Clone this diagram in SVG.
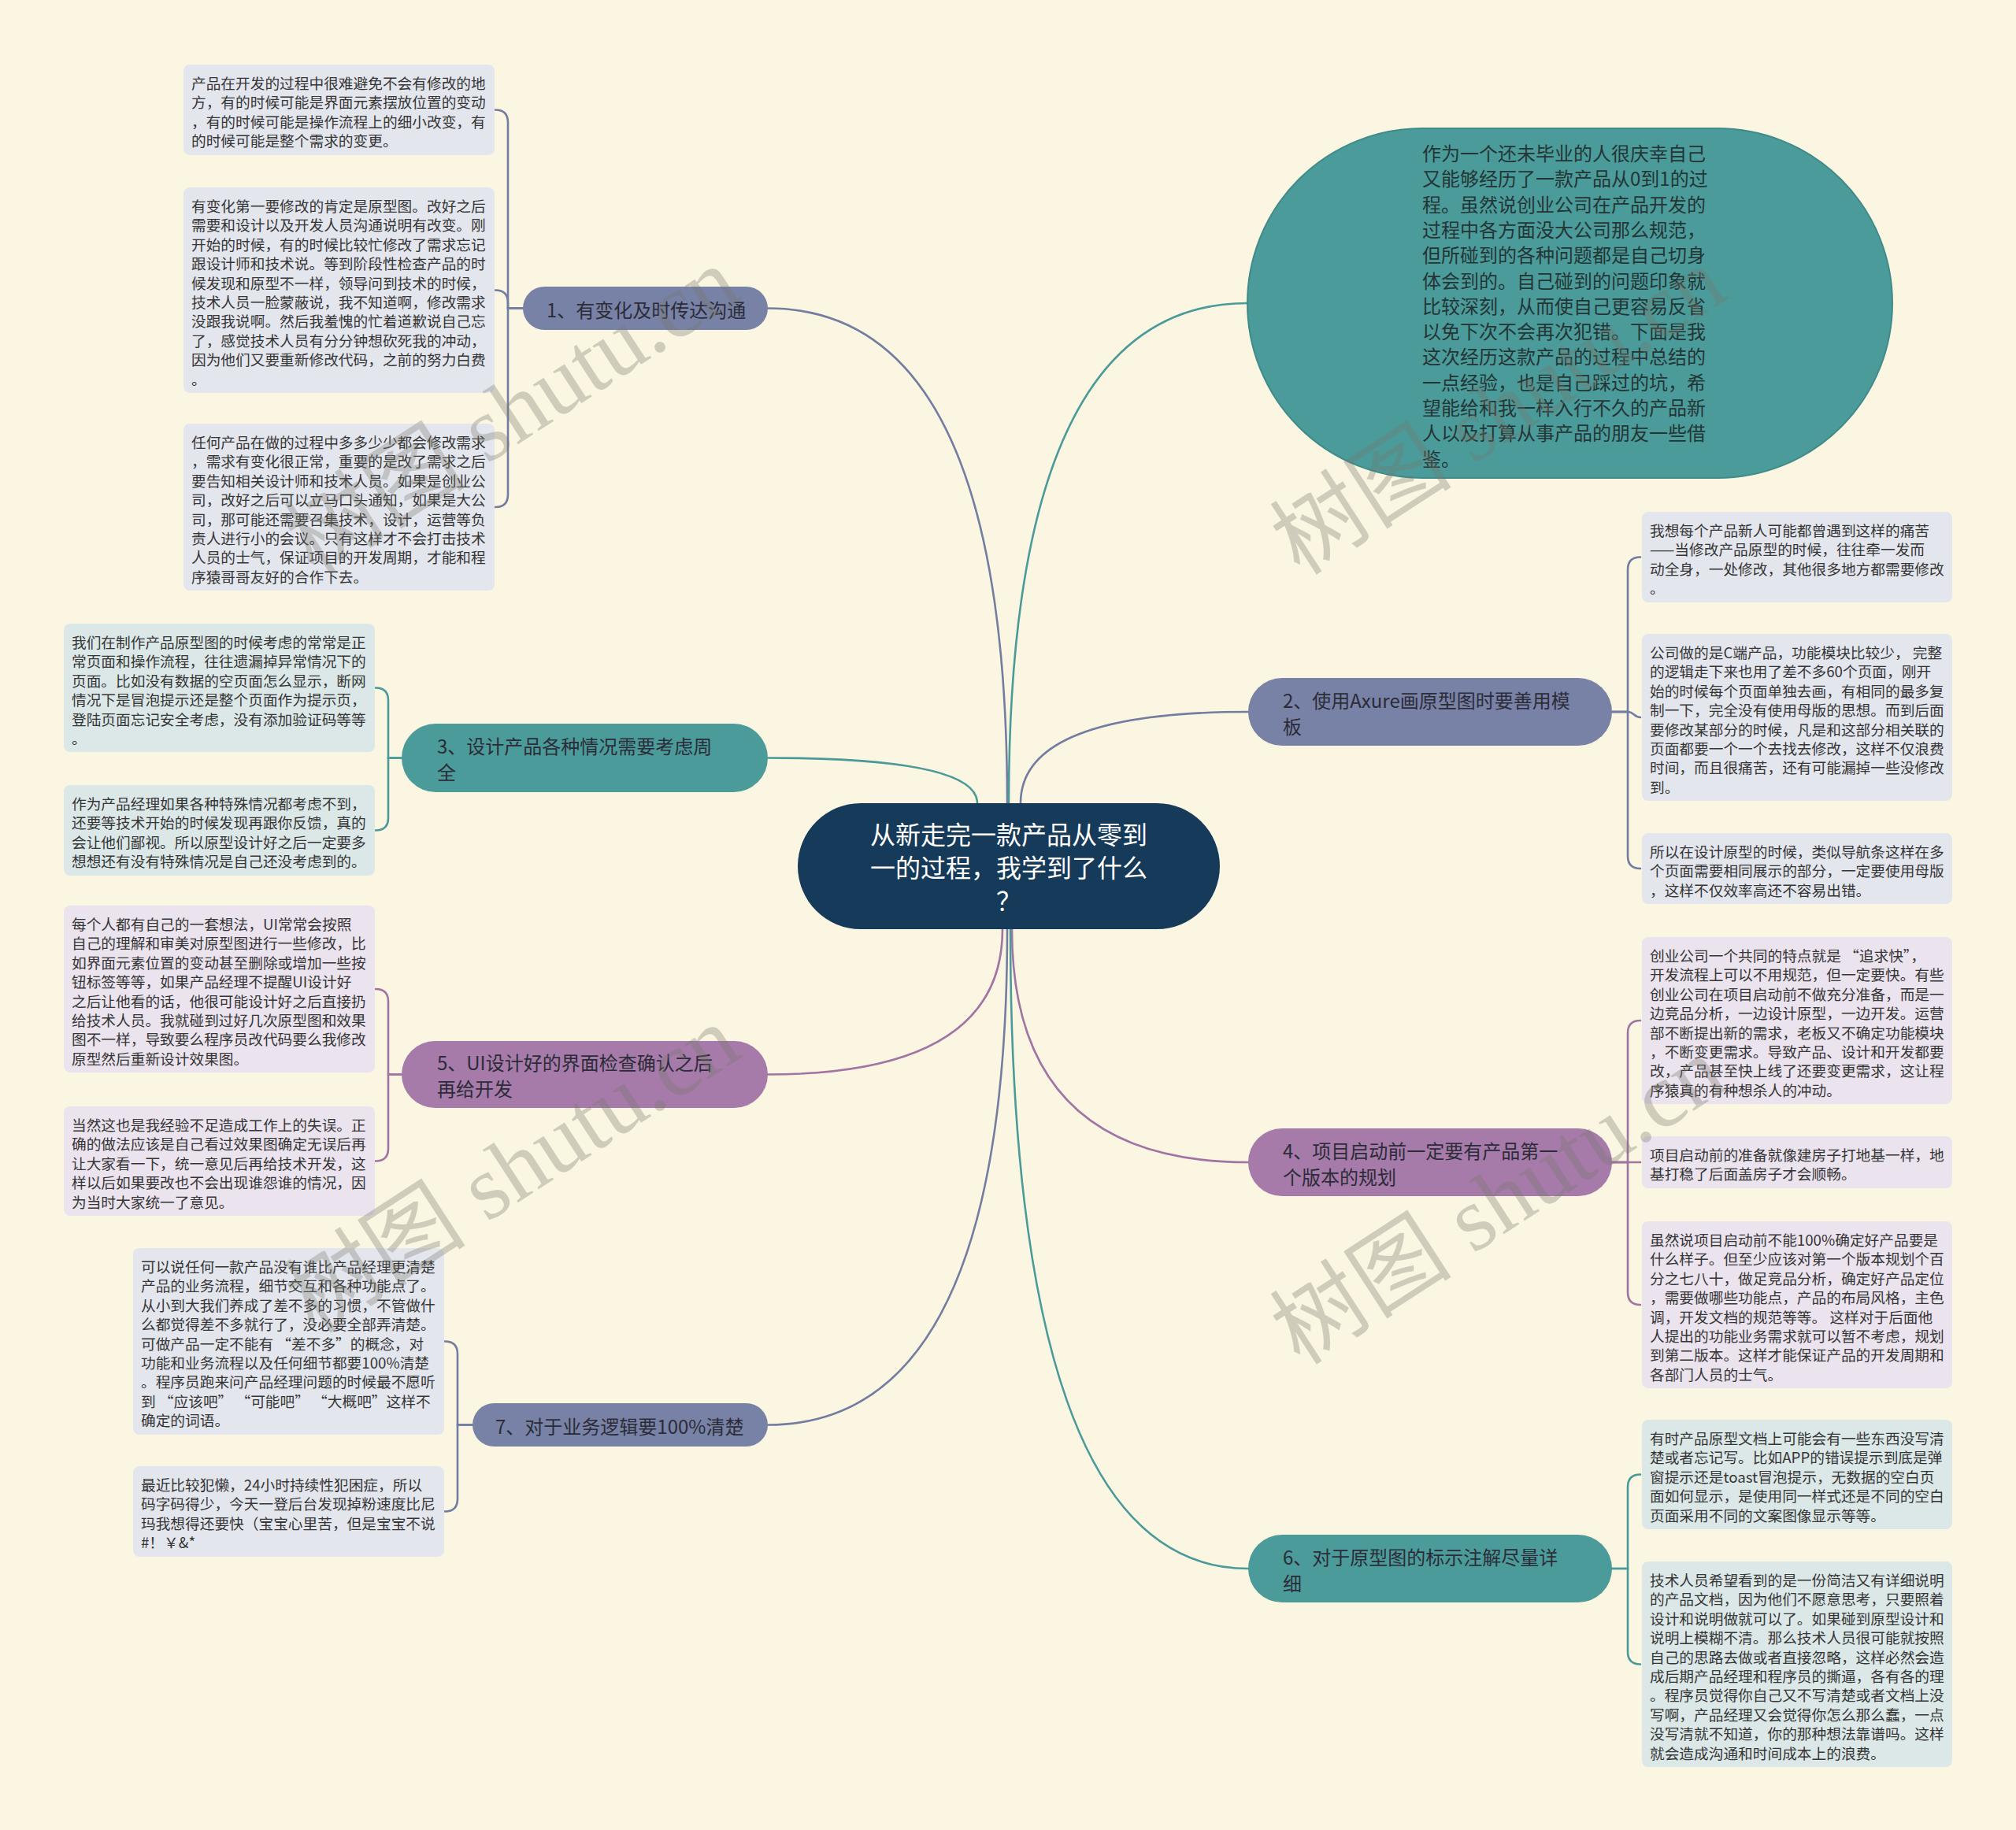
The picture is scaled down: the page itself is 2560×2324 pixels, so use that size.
<svg xmlns="http://www.w3.org/2000/svg" width="2560" height="2324" viewBox="0 0 2560 2324">
<style>
text{font-family:"Noto Sans CJK SC","Noto Sans",sans-serif;dominant-baseline:central}
.leaf{font-size:18.7px;fill:#353535}
.br{font-size:24px;fill:#2b2c38}
.ctr{font-size:32px;fill:#ffffff;text-anchor:middle}
.ell{font-size:24px;fill:#243535}
.lf-s{fill:#e4e6ee}
.lf-t{fill:#dce8e8}
.lf-p{fill:#ebe3ee}
.n-s{fill:#7882a6}
.n-t{fill:#4b9b9a}
.n-p{fill:#a67aa9}
.c{fill:none;stroke-width:2.6;stroke-linecap:round}
.cs{stroke:#737da0}
.ct{stroke:#4b9a99}
.cp{stroke:#a174a4}
.wm{font-family:"Liberation Serif","Noto Sans CJK SC",serif;font-size:116px;fill:#77776c;opacity:0.32;text-anchor:middle;dominant-baseline:auto}
</style>
<rect x="0" y="0" width="2560" height="2324" fill="#faf6e1"/>

<g id="connectors">
  <path class="c cs" d="M1279,1020 Q1279,391.5 975,391.5"/>
  <path class="c ct" d="M1281,1020 Q1281,385 1584,385"/>
  <path class="c ct" d="M1241,1020 Q1241,962.5 975,962.5"/>
  <path class="c cs" d="M1296,1020 Q1296,904 1585,904"/>
  <path class="c cp" d="M1273,1180 Q1273,1364.5 975,1364.5"/>
  <path class="c cs" d="M1279,1180 Q1279,1809.5 975,1809.5"/>
  <path class="c cp" d="M1285,1180 Q1285,1476 1585,1476"/>
  <path class="c ct" d="M1283,1180 Q1283,1992 1585,1992"/>

  <path class="c cs" d="M664,391.5 H645 V155.5 Q645,139.5 629,139.5"/>
  <path class="c cs" d="M664,391.5 H645 V384.5 Q645,368.5 629,368.5"/>
  <path class="c cs" d="M664,391.5 H645 V628 Q645,644 629,644"/>

  <path class="c ct" d="M510,962.5 H493 V889.5 Q493,873.5 477,873.5"/>
  <path class="c ct" d="M510,962.5 H493 V1038.5 Q493,1054.5 477,1054.5"/>

  <path class="c cp" d="M510,1364.5 H493 V1272 Q493,1256 477,1256"/>
  <path class="c cp" d="M510,1364.5 H493 V1458.5 Q493,1474.5 477,1474.5"/>

  <path class="c cs" d="M600,1809.5 H581 V1719.5 Q581,1703.5 565,1703.5"/>
  <path class="c cs" d="M600,1809.5 H581 V1903.5 Q581,1919.5 565,1919.5"/>

  <path class="c cs" d="M2047,904 H2067 V723.5 Q2067,707.5 2083,707.5"/>
  <path class="c cs" d="M2047,904 H2067 C2075,904 2075,911 2083,911"/>
  <path class="c cs" d="M2047,904 H2067 V1087 Q2067,1103 2083,1103"/>

  <path class="c cp" d="M2047,1476 H2067 V1312 Q2067,1296 2083,1296"/>
  <path class="c cp" d="M2047,1476 H2083"/>
  <path class="c cp" d="M2047,1476 H2067 V1641 Q2067,1657 2083,1657"/>

  <path class="c ct" d="M2047,1992 H2067 V1888.5 Q2067,1872.5 2083,1872.5"/>
  <path class="c ct" d="M2047,1992 H2067 V2097.5 Q2067,2113.5 2083,2113.5"/>
</g>

<g id="center">
  <rect x="1013" y="1020" width="536" height="160" rx="80" fill="#163a59"/>
  <text class="ctr"><tspan x="1281" y="1058">从新走完一款产品从零到</tspan><tspan x="1281" y="1100">一的过程，我学到了什么</tspan><tspan x="1281" y="1142">？</tspan></text>
</g>

<g id="intro">
  <rect x="1584" y="163" width="819" height="444" rx="222" fill="#4b9b9a" stroke="#3f8b8a" stroke-width="2"/>
  <text class="ell">
    <tspan x="1806" y="193">作为一个还未毕业的人很庆幸自己</tspan>
    <tspan x="1806" y="225.3">又能够经历了一款产品从0到1的过</tspan>
    <tspan x="1806" y="257.6">程。虽然说创业公司在产品开发的</tspan>
    <tspan x="1806" y="289.9">过程中各方面没大公司那么规范，</tspan>
    <tspan x="1806" y="322.2">但所碰到的各种问题都是自己切身</tspan>
    <tspan x="1806" y="354.5">体会到的。自己碰到的问题印象就</tspan>
    <tspan x="1806" y="386.8">比较深刻，从而使自己更容易反省</tspan>
    <tspan x="1806" y="419.1">以免下次不会再次犯错。下面是我</tspan>
    <tspan x="1806" y="451.4">这次经历这款产品的过程中总结的</tspan>
    <tspan x="1806" y="483.7">一点经验，也是自己踩过的坑，希</tspan>
    <tspan x="1806" y="516">望能给和我一样入行不久的产品新</tspan>
    <tspan x="1806" y="548.3">人以及打算从事产品的朋友一些借</tspan>
    <tspan x="1806" y="580.6">鉴。</tspan>
  </text>
</g>

<g id="branch1">
  <rect class="n-s" x="664" y="364" width="311" height="55" rx="27.5"/>
  <text class="br"><tspan x="694" y="391.5">1、有变化及时传达沟通</tspan></text>
</g>
<g id="branch3">
  <rect class="n-t" x="510" y="919" width="465" height="87" rx="43.5"/>
  <text class="br"><tspan x="555" y="946">3、设计产品各种情况需要考虑周</tspan><tspan x="555" y="979">全</tspan></text>
</g>
<g id="branch5">
  <rect class="n-p" x="510" y="1322" width="465" height="85" rx="42.5"/>
  <text class="br"><tspan x="555" y="1348">5、UI设计好的界面检查确认之后</tspan><tspan x="555" y="1381">再给开发</tspan></text>
</g>
<g id="branch7">
  <rect class="n-s" x="600" y="1782" width="375" height="55" rx="27.5"/>
  <text class="br"><tspan x="629" y="1809.5">7、对于业务逻辑要100%清楚</tspan></text>
</g>
<g id="branch2">
  <rect class="n-s" x="1585" y="861" width="462" height="86" rx="43"/>
  <text class="br"><tspan x="1629" y="888">2、使用Axure画原型图时要善用模</tspan><tspan x="1629" y="921">板</tspan></text>
</g>
<g id="branch4">
  <rect class="n-p" x="1585" y="1433" width="462" height="86" rx="43"/>
  <text class="br"><tspan x="1629" y="1460">4、项目启动前一定要有产品第一</tspan><tspan x="1629" y="1493">个版本的规划</tspan></text>
</g>
<g id="branch6">
  <rect class="n-t" x="1585" y="1949" width="462" height="86" rx="43"/>
  <text class="br"><tspan x="1629" y="1976">6、对于原型图的标示注解尽量详</tspan><tspan x="1629" y="2009">细</tspan></text>
</g>

<g id="leaf1a">
  <rect class="lf-s" x="233" y="82" width="395" height="115" rx="8"/>
  <text class="leaf"><tspan x="243" y="104">产品在开发的过程中很难避免不会有修改的地</tspan><tspan x="243" y="128.4">方，有的时候可能是界面元素摆放位置的变动</tspan><tspan x="243" y="152.8">，有的时候可能是操作流程上的细小改变，有</tspan><tspan x="243" y="177.2">的时候可能是整个需求的变更。</tspan></text>
</g>
<g id="leaf1b">
  <rect class="lf-s" x="233" y="238" width="395" height="261" rx="8"/>
  <text class="leaf"><tspan x="243" y="260">有变化第一要修改的肯定是原型图。改好之后</tspan><tspan x="243" y="284.4">需要和设计以及开发人员沟通说明有改变。刚</tspan><tspan x="243" y="308.8">开始的时候，有的时候比较忙修改了需求忘记</tspan><tspan x="243" y="333.2">跟设计师和技术说。等到阶段性检查产品的时</tspan><tspan x="243" y="357.6">候发现和原型不一样，领导问到技术的时候，</tspan><tspan x="243" y="382">技术人员一脸蒙蔽说，我不知道啊，修改需求</tspan><tspan x="243" y="406.4">没跟我说啊。然后我羞愧的忙着道歉说自己忘</tspan><tspan x="243" y="430.8">了，感觉技术人员有分分钟想砍死我的冲动，</tspan><tspan x="243" y="455.2">因为他们又要重新修改代码，之前的努力白费</tspan><tspan x="243" y="479.6">。</tspan></text>
</g>
<g id="leaf1c">
  <rect class="lf-s" x="233" y="538" width="395" height="212" rx="8"/>
  <text class="leaf"><tspan x="243" y="560">任何产品在做的过程中多多少少都会修改需求</tspan><tspan x="243" y="584.4">，需求有变化很正常，重要的是改了需求之后</tspan><tspan x="243" y="608.8">要告知相关设计师和技术人员。如果是创业公</tspan><tspan x="243" y="633.2">司，改好之后可以立马口头通知，如果是大公</tspan><tspan x="243" y="657.6">司，那可能还需要召集技术，设计，运营等负</tspan><tspan x="243" y="682">责人进行小的会议。只有这样才不会打击技术</tspan><tspan x="243" y="706.4">人员的士气，保证项目的开发周期，才能和程</tspan><tspan x="243" y="730.8">序猿哥哥友好的合作下去。</tspan></text>
</g>

<g id="leaf3a">
  <rect class="lf-t" x="81" y="792" width="395" height="163" rx="8"/>
  <text class="leaf"><tspan x="91" y="814">我们在制作产品原型图的时候考虑的常常是正</tspan><tspan x="91" y="838.4">常页面和操作流程，往往遗漏掉异常情况下的</tspan><tspan x="91" y="862.8">页面。比如没有数据的空页面怎么显示，断网</tspan><tspan x="91" y="887.2">情况下是冒泡提示还是整个页面作为提示页，</tspan><tspan x="91" y="911.6">登陆页面忘记安全考虑，没有添加验证码等等</tspan><tspan x="91" y="936">。</tspan></text>
</g>
<g id="leaf3b">
  <rect class="lf-t" x="81" y="997" width="395" height="115" rx="8"/>
  <text class="leaf"><tspan x="91" y="1019">作为产品经理如果各种特殊情况都考虑不到，</tspan><tspan x="91" y="1043.4">还要等技术开始的时候发现再跟你反馈，真的</tspan><tspan x="91" y="1067.8">会让他们鄙视。所以原型设计好之后一定要多</tspan><tspan x="91" y="1092.2">想想还有没有特殊情况是自己还没考虑到的。</tspan></text>
</g>

<g id="leaf5a">
  <rect class="lf-p" x="81" y="1150" width="395" height="212" rx="8"/>
  <text class="leaf"><tspan x="91" y="1172">每个人都有自己的一套想法，UI常常会按照</tspan><tspan x="91" y="1196.4">自己的理解和审美对原型图进行一些修改，比</tspan><tspan x="91" y="1220.8">如界面元素位置的变动甚至删除或增加一些按</tspan><tspan x="91" y="1245.2">钮标签等等，如果产品经理不提醒UI设计好</tspan><tspan x="91" y="1269.6">之后让他看的话，他很可能设计好之后直接扔</tspan><tspan x="91" y="1294">给技术人员。我就碰到过好几次原型图和效果</tspan><tspan x="91" y="1318.4">图不一样，导致要么程序员改代码要么我修改</tspan><tspan x="91" y="1342.8">原型然后重新设计效果图。</tspan></text>
</g>
<g id="leaf5b">
  <rect class="lf-p" x="81" y="1405" width="395" height="139" rx="8"/>
  <text class="leaf"><tspan x="91" y="1427">当然这也是我经验不足造成工作上的失误。正</tspan><tspan x="91" y="1451.4">确的做法应该是自己看过效果图确定无误后再</tspan><tspan x="91" y="1475.8">让大家看一下，统一意见后再给技术开发，这</tspan><tspan x="91" y="1500.2">样以后如果要改也不会出现谁怨谁的情况，因</tspan><tspan x="91" y="1524.6">为当时大家统一了意见。</tspan></text>
</g>

<g id="leaf7a">
  <rect class="lf-s" x="169" y="1585" width="395" height="237" rx="8"/>
  <text class="leaf"><tspan x="179" y="1607">可以说任何一款产品没有谁比产品经理更清楚</tspan><tspan x="179" y="1631.4">产品的业务流程，细节交互和各种功能点了。</tspan><tspan x="179" y="1655.8">从小到大我们养成了差不多的习惯，不管做什</tspan><tspan x="179" y="1680.2">么都觉得差不多就行了，没必要全部弄清楚。</tspan><tspan x="179" y="1704.6">可做产品一定不能有 “差不多”的概念，对</tspan><tspan x="179" y="1729">功能和业务流程以及任何细节都要100%清楚</tspan><tspan x="179" y="1753.4">。程序员跑来问产品经理问题的时候最不愿听</tspan><tspan x="179" y="1777.8">到 “应该吧” “可能吧” “大概吧”这样不</tspan><tspan x="179" y="1802.2">确定的词语。</tspan></text>
</g>
<g id="leaf7b">
  <rect class="lf-s" x="169" y="1862" width="395" height="115" rx="8"/>
  <text class="leaf"><tspan x="179" y="1884">最近比较犯懒，24小时持续性犯困症，所以</tspan><tspan x="179" y="1908.4">码字码得少，今天一登后台发现掉粉速度比尼</tspan><tspan x="179" y="1932.8">玛我想得还要快（宝宝心里苦，但是宝宝不说</tspan><tspan x="179" y="1957.2">#！￥&amp;*</tspan></text>
</g>

<g id="leaf2a">
  <rect class="lf-s" x="2085" y="650" width="394" height="115" rx="8"/>
  <text class="leaf"><tspan x="2095" y="672">我想每个产品新人可能都曾遇到这样的痛苦</tspan><tspan x="2095" y="696.4">——当修改产品原型的时候，往往牵一发而</tspan><tspan x="2095" y="720.8">动全身，一处修改，其他很多地方都需要修改</tspan><tspan x="2095" y="745.2">。</tspan></text>
</g>
<g id="leaf2b">
  <rect class="lf-s" x="2085" y="805" width="394" height="212" rx="8"/>
  <text class="leaf"><tspan x="2095" y="827">公司做的是C端产品，功能模块比较少， 完整</tspan><tspan x="2095" y="851.4">的逻辑走下来也用了差不多60个页面，刚开</tspan><tspan x="2095" y="875.8">始的时候每个页面单独去画，有相同的最多复</tspan><tspan x="2095" y="900.2">制一下，完全没有使用母版的思想。而到后面</tspan><tspan x="2095" y="924.6">要修改某部分的时候，凡是和这部分相关联的</tspan><tspan x="2095" y="949">页面都要一个一个去找去修改，这样不仅浪费</tspan><tspan x="2095" y="973.4">时间，而且很痛苦，还有可能漏掉一些没修改</tspan><tspan x="2095" y="997.8">到。</tspan></text>
</g>
<g id="leaf2c">
  <rect class="lf-s" x="2085" y="1058" width="394" height="90" rx="8"/>
  <text class="leaf"><tspan x="2095" y="1080">所以在设计原型的时候，类似导航条这样在多</tspan><tspan x="2095" y="1104.4">个页面需要相同展示的部分，一定要使用母版</tspan><tspan x="2095" y="1128.8">，这样不仅效率高还不容易出错。</tspan></text>
</g>

<g id="leaf4a">
  <rect class="lf-p" x="2085" y="1190" width="394" height="212" rx="8"/>
  <text class="leaf"><tspan x="2095" y="1212">创业公司一个共同的特点就是 “追求快”，</tspan><tspan x="2095" y="1236.4">开发流程上可以不用规范，但一定要快。有些</tspan><tspan x="2095" y="1260.8">创业公司在项目启动前不做充分准备，而是一</tspan><tspan x="2095" y="1285.2">边竞品分析，一边设计原型，一边开发。运营</tspan><tspan x="2095" y="1309.6">部不断提出新的需求，老板又不确定功能模块</tspan><tspan x="2095" y="1334">，不断变更需求。导致产品、设计和开发都要</tspan><tspan x="2095" y="1358.4">改，产品甚至快上线了还要变更需求，这让程</tspan><tspan x="2095" y="1382.8">序猿真的有种想杀人的冲动。</tspan></text>
</g>
<g id="leaf4b">
  <rect class="lf-p" x="2085" y="1443" width="394" height="66" rx="8"/>
  <text class="leaf"><tspan x="2095" y="1465">项目启动前的准备就像建房子打地基一样，地</tspan><tspan x="2095" y="1489.4">基打稳了后面盖房子才会顺畅。</tspan></text>
</g>
<g id="leaf4c">
  <rect class="lf-p" x="2085" y="1551" width="394" height="212" rx="8"/>
  <text class="leaf"><tspan x="2095" y="1573">虽然说项目启动前不能100%确定好产品要是</tspan><tspan x="2095" y="1597.4">什么样子。但至少应该对第一个版本规划个百</tspan><tspan x="2095" y="1621.8">分之七八十，做足竞品分析，确定好产品定位</tspan><tspan x="2095" y="1646.2">，需要做哪些功能点，产品的布局风格，主色</tspan><tspan x="2095" y="1670.6">调，开发文档的规范等等。 这样对于后面他</tspan><tspan x="2095" y="1695">人提出的功能业务需求就可以暂不考虑，规划</tspan><tspan x="2095" y="1719.4">到第二版本。这样才能保证产品的开发周期和</tspan><tspan x="2095" y="1743.8">各部门人员的士气。</tspan></text>
</g>

<g id="leaf6a">
  <rect class="lf-t" x="2085" y="1803" width="394" height="139" rx="8"/>
  <text class="leaf"><tspan x="2095" y="1825">有时产品原型文档上可能会有一些东西没写清</tspan><tspan x="2095" y="1849.4">楚或者忘记写。比如APP的错误提示到底是弹</tspan><tspan x="2095" y="1873.8">窗提示还是toast冒泡提示，无数据的空白页</tspan><tspan x="2095" y="1898.2">面如何显示，是使用同一样式还是不同的空白</tspan><tspan x="2095" y="1922.6">页面采用不同的文案图像显示等等。</tspan></text>
</g>
<g id="leaf6b">
  <rect class="lf-t" x="2085" y="1983" width="394" height="261" rx="8"/>
  <text class="leaf"><tspan x="2095" y="2005">技术人员希望看到的是一份简洁又有详细说明</tspan><tspan x="2095" y="2029.4">的产品文档，因为他们不愿意思考，只要照着</tspan><tspan x="2095" y="2053.8">设计和说明做就可以了。如果碰到原型设计和</tspan><tspan x="2095" y="2078.2">说明上模糊不清。那么技术人员很可能就按照</tspan><tspan x="2095" y="2102.6">自己的思路去做或者直接忽略，这样必然会造</tspan><tspan x="2095" y="2127">成后期产品经理和程序员的撕逼，各有各的理</tspan><tspan x="2095" y="2151.4">。程序员觉得你自己又不写清楚或者文档上没</tspan><tspan x="2095" y="2175.8">写啊，产品经理又会觉得你怎么那么蠢，一点</tspan><tspan x="2095" y="2200.2">没写清就不知道，你的那种想法靠谱吗。这样</tspan><tspan x="2095" y="2224.6">就会造成沟通和时间成本上的浪费。</tspan></text>
</g>

<g id="watermarks">
  <text class="wm" transform="translate(672,555) rotate(-33)">树图 shutu.cn</text>
  <text class="wm" transform="translate(1924,555) rotate(-33)">树图 shutu.cn</text>
  <text class="wm" transform="translate(672,1518) rotate(-33)">树图 shutu.cn</text>
  <text class="wm" transform="translate(1924,1558) rotate(-33)">树图 shutu.cn</text>
</g>
</svg>
